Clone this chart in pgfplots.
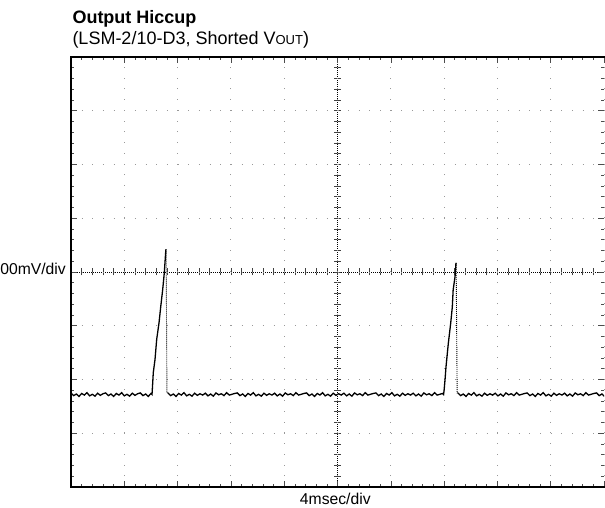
\documentclass[border=0pt]{standalone}
\usepackage{fontspec}
\setmainfont{Liberation Sans}
\usepackage{pgfplots}
\pgfplotsset{compat=1.18}
\begin{document}
\begin{tikzpicture}[x=1pt,y=1pt]
% centre crosshair (scope graticule)
\draw[black, line width=0.7pt, dash pattern=on 1pt off 1pt] (337.5pt,21pt) -- (337.5pt,451pt);
\draw[black, line width=0.7pt, dash pattern=on 1pt off 1pt] (71pt,236pt) -- (604pt,236pt);
\foreach \i in {1,...,39} \draw[black!75, line width=0.6pt] (334pt,21pt+\i*10.75pt) -- ++(7pt,0pt);
\foreach \i in {1,...,49} \draw[black!75, line width=0.6pt] (71pt+\i*10.66pt,232.5pt) -- ++(0pt,7pt);
\begin{axis}[
  at={(71pt,21pt)}, anchor=south west,
  scale only axis, width=533pt, height=430pt,
  xmin=0, xmax=10, ymin=-4, ymax=4,
  xtick={0,...,10}, ytick={-4,...,4},
  minor x tick num=4, minor y tick num=4,
  xticklabels={}, yticklabels={},
  tick align=inside,
  major tick length=6pt, minor tick length=3pt,
  tick style={black!70, line width=0.6pt},
  grid=major,
  x grid style={gray!80, line width=0.9pt, dash pattern=on 0.9pt off 9.85pt},
  y grid style={gray!80, line width=0.9pt, dash pattern=on 0.9pt off 9.76pt},
  axis line style={draw=none},
]
\addplot[black, line width=1.3pt, no marks] coordinates {
(0.00,-2.25)(0.05,-2.30)(0.10,-2.27)(0.15,-2.315)(0.20,-2.26)(0.25,-2.29)(0.30,-2.245)(0.35,-2.305)(0.40,-2.275)(0.45,-2.31)(0.50,-2.255)(0.55,-2.295)(0.60,-2.265)
(0.65,-2.25)(0.70,-2.30)(0.75,-2.27)(0.80,-2.315)(0.85,-2.26)(0.90,-2.29)(0.95,-2.245)(1.00,-2.305)(1.05,-2.275)(1.10,-2.31)(1.15,-2.255)(1.20,-2.295)(1.25,-2.265)
(1.30,-2.25)(1.35,-2.30)(1.40,-2.27)(1.45,-2.315)(1.50,-2.26)
(1.52,-2.28)(1.525,-2.2)(1.544,-1.87)(1.576,-1.63)(1.608,-1.25)(1.651,-0.95)(1.683,-0.65)(1.72,-0.33)(1.75,-0.02)(1.78,0.42)
};
\addplot[black, line width=0.9pt, no marks, dash pattern=on 1pt off 1pt] coordinates {(1.785,0.42)(1.80,-2.25)(1.82,-2.25)};
\addplot[black, line width=1.3pt, no marks] coordinates {
(1.82,-2.25)(1.87,-2.30)(1.92,-2.27)(1.97,-2.315)(2.02,-2.26)(2.07,-2.29)(2.12,-2.245)(2.17,-2.305)(2.22,-2.275)(2.27,-2.31)(2.32,-2.255)(2.37,-2.295)(2.42,-2.265)
(2.47,-2.29)(2.52,-2.255)(2.57,-2.305)(2.62,-2.27)(2.67,-2.31)(2.72,-2.25)(2.77,-2.285)(2.82,-2.265)(2.87,-2.30)(2.92,-2.245)(2.97,-2.29)(3.02,-2.275)(3.07,-2.26)
(3.12,-2.25)(3.17,-2.30)(3.22,-2.27)(3.27,-2.315)(3.32,-2.26)(3.37,-2.29)(3.42,-2.245)(3.47,-2.305)(3.52,-2.275)(3.57,-2.31)(3.62,-2.255)(3.67,-2.295)(3.72,-2.265)
(3.77,-2.29)(3.82,-2.255)(3.87,-2.305)(3.92,-2.27)(3.97,-2.31)(4.02,-2.25)(4.07,-2.285)(4.12,-2.265)(4.17,-2.30)(4.22,-2.245)(4.27,-2.29)(4.32,-2.275)(4.37,-2.26)
(4.42,-2.25)(4.47,-2.30)(4.52,-2.27)(4.57,-2.315)(4.62,-2.26)(4.67,-2.29)(4.72,-2.245)(4.77,-2.305)(4.82,-2.275)(4.87,-2.31)(4.92,-2.255)(4.97,-2.295)(5.02,-2.265)
(5.07,-2.29)(5.12,-2.255)(5.17,-2.305)(5.22,-2.27)(5.27,-2.31)(5.32,-2.25)(5.37,-2.285)(5.42,-2.265)(5.47,-2.30)(5.52,-2.245)(5.57,-2.29)(5.62,-2.275)(5.67,-2.26)
(5.72,-2.25)(5.77,-2.30)(5.82,-2.27)(5.87,-2.315)(5.92,-2.26)(5.97,-2.29)(6.02,-2.245)(6.07,-2.305)(6.12,-2.275)(6.17,-2.31)(6.22,-2.255)(6.27,-2.295)(6.32,-2.265)
(6.37,-2.29)(6.42,-2.255)(6.47,-2.305)(6.52,-2.27)(6.57,-2.31)(6.62,-2.25)(6.67,-2.285)(6.72,-2.265)(6.77,-2.30)(6.82,-2.245)(6.87,-2.29)(6.92,-2.275)(6.97,-2.26)
(6.99,-2.28)(7.0,-2.2)(7.017,-2.01)(7.036,-1.76)(7.079,-1.33)(7.124,-0.95)(7.154,-0.65)(7.17,-0.33)(7.205,-0.09)(7.223,0.17)
};
\addplot[black, line width=0.9pt, no marks, dash pattern=on 1pt off 1pt] coordinates {(7.226,0.17)(7.245,-2.25)(7.26,-2.25)};
\addplot[black, line width=1.3pt, no marks] coordinates {
(7.26,-2.25)(7.31,-2.30)(7.36,-2.27)(7.41,-2.315)(7.46,-2.26)(7.51,-2.29)(7.56,-2.245)(7.61,-2.305)(7.66,-2.275)(7.71,-2.31)(7.76,-2.255)(7.81,-2.295)(7.86,-2.265)
(7.91,-2.29)(7.96,-2.255)(8.01,-2.305)(8.06,-2.27)(8.11,-2.31)(8.16,-2.25)(8.21,-2.285)(8.26,-2.265)(8.31,-2.30)(8.36,-2.245)(8.41,-2.29)(8.46,-2.275)(8.51,-2.26)
(8.56,-2.25)(8.61,-2.30)(8.66,-2.27)(8.71,-2.315)(8.76,-2.26)(8.81,-2.29)(8.86,-2.245)(8.91,-2.305)(8.96,-2.275)(9.01,-2.31)(9.06,-2.255)(9.11,-2.295)(9.16,-2.265)
(9.21,-2.29)(9.26,-2.255)(9.31,-2.305)(9.36,-2.27)(9.41,-2.31)(9.46,-2.25)(9.51,-2.285)(9.56,-2.265)(9.61,-2.30)(9.66,-2.245)(9.71,-2.29)(9.76,-2.275)(9.81,-2.26)
(9.86,-2.25)(9.91,-2.30)(9.96,-2.27)(10.01,-2.315)
};
\end{axis}
% frame (right side lies beyond the picture edge)
\draw[black, line width=2pt] (610pt,21pt) -- (71pt,21pt) -- (71pt,451pt) -- (610pt,451pt);
% texts
\node[anchor=base west, inner sep=0pt, font=\bfseries\fontsize{18}{18}\selectfont] at (72.3pt,484pt) {Output Hiccup};
\node[anchor=base west, inner sep=0pt, font=\fontsize{18}{18}\selectfont] at (72.3pt,463pt) {(LSM-2/10-D3, Shorted V{\fontsize{13}{13}\selectfont OUT})};
\node[anchor=base east, inner sep=0pt, font=\fontsize{15.7}{16}\selectfont] at (66pt,233.7pt) {100mV/div};
\node[anchor=base, inner sep=0pt, font=\fontsize{15.7}{16}\selectfont] at (335.3pt,3pt) {4msec/div};
\pgfresetboundingbox
\useasboundingbox (0pt,0pt) rectangle (605pt,508pt);
\end{tikzpicture}
\end{document}
